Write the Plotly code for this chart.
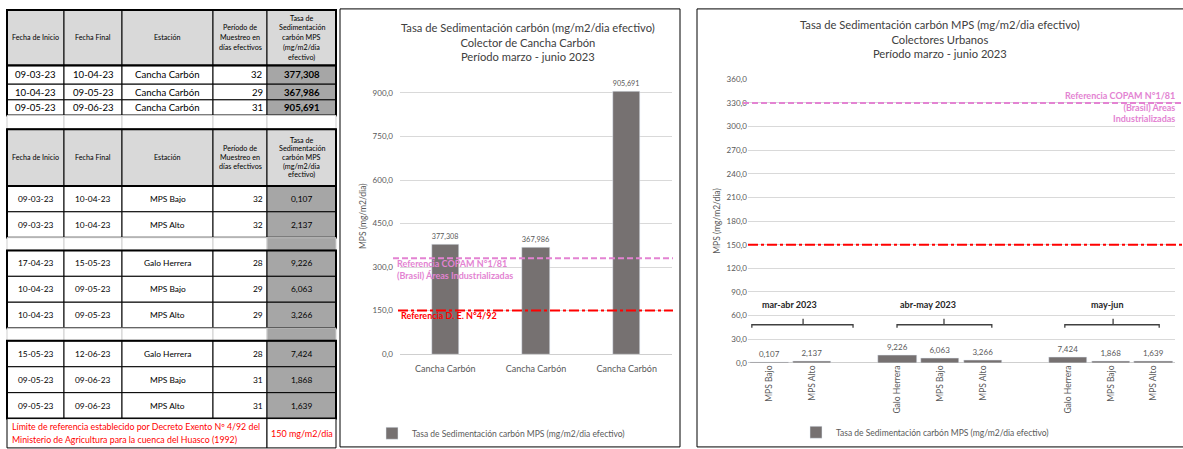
import plotly.graph_objects as go

# ---------------------------------------------------------------------------
# Data
# ---------------------------------------------------------------------------
# Cancha Carbón collector
cc_start = ["09-03-23", "10-04-23", "09-05-23"]
cc_end = ["10-04-23", "09-05-23", "09-06-23"]
cc_station = ["Cancha Carbón", "Cancha Carbón", "Cancha Carbón"]
cc_days = [32, 29, 31]
cc_rate = [377.308, 367.986, 905.691]

# Urban collectors, grouped by sampling period
urb_start = ["09-03-23", "09-03-23", "17-04-23", "10-04-23", "10-04-23",
             "15-05-23", "09-05-23", "09-05-23"]
urb_end = ["10-04-23", "10-04-23", "15-05-23", "09-05-23", "09-05-23",
           "12-06-23", "09-06-23", "09-06-23"]
urb_station = ["MPS Bajo", "MPS Alto", "Galo Herrera", "MPS Bajo", "MPS Alto",
               "Galo Herrera", "MPS Bajo", "MPS Alto"]
urb_days = [32, 32, 28, 29, 29, 28, 31, 31]
urb_rate = [0.107, 2.137, 9.226, 6.063, 3.266, 7.424, 1.868, 1.639]
period_labels = ["mar-abr 2023", "abr-may 2023", "may-jun"]
period_sizes = [2, 3, 3]

# Reference limits (mg/m2/dia)
limit_de = 150
limit_copam = 330

table_header = ["Fecha de Inicio", "Fecha Final", "Estación",
                ["Período de", "Muestreo en", "días efectivos"],
                ["Tasa de", "Sedimentación", "carbón MPS", "(mg/m2/dia", "efectivo)"]]
footer_lines = ["Límite de referencia establecido por Decreto Exento Nº 4/92 del",
                "Ministerio de Agricultura para la cuenca del Huasco (1992)"]
footer_limit = "150 mg/m2/dia"

legend_name = "Tasa de Sedimentación carbón MPS (mg/m2/dia efectivo)"
title_cc = ["Tasa de Sedimentación carbón (mg/m2/dia efectivo)",
            "Colector de Cancha Carbón", "Período marzo - junio 2023"]
title_urb = ["Tasa de Sedimentación carbón MPS (mg/m2/dia efectivo)",
             "Colectores Urbanos", "Período marzo - junio 2023"]
y_title = "MPS (mg/m2/dia)"
copam_text = "Referencia COPAM N°1/81"
copam_text2 = "(Brasil) Áreas Industrializadas"
de_text = "Referencia D. E. N°4/92"

# ---------------------------------------------------------------------------
# Styling / page geometry (pixels)
# ---------------------------------------------------------------------------
W, H = 1183, 449
FONT = "Lato"
BAR = "#767171"
TICK = "#595959"
GRID = "#d9d9d9"
PINK = "#e383d2"
RED = "#ff0000"
HEAD_FILL = "#d9d9d9"
VAL_FILL = "#a6a6a6"


def px(x):
    return x / W


def py(y):
    return 1 - y / H


fig = go.Figure()
shapes = []
annots = []


def rect(x0, y0, x1, y1, fill="rgba(0,0,0,0)", color="black", width=1):
    shapes.append(dict(type="rect", xref="paper", yref="paper",
                       x0=px(x0), x1=px(x1), y0=py(y1), y1=py(y0),
                       fillcolor=fill, line=dict(color=color, width=width),
                       layer="above"))


def text(x, y, s, size, color="black", anchor="center", bold=False):
    if bold:
        s = "<b>" + s + "</b>"
    annots.append(dict(xref="paper", yref="paper", x=px(x), y=py(y), text=s,
                       showarrow=False, xanchor=anchor, yanchor="middle",
                       font=dict(family=FONT, size=size, color=color)))


# ---------------------------------------------------------------------------
# Tables
# ---------------------------------------------------------------------------
COLS = [7, 64, 122, 213, 267, 336]


def header_row(y0, y1, spacing):
    for c in range(5):
        rect(COLS[c], y0, COLS[c + 1], y1, fill=HEAD_FILL, width=1)
        lab = table_header[c]
        cx = (COLS[c] + COLS[c + 1]) / 2
        cy = (y0 + y1) / 2
        if isinstance(lab, str):
            text(cx, cy, lab, 7.2)
        else:
            n = len(lab)
            for i, line in enumerate(lab):
                text(cx, cy + (i - (n - 1) / 2) * spacing, line, 7.2)
    rect(COLS[0], y0, COLS[-1], y1, width=2)


def data_rows(y_edges, starts, ends, stations, days, rates, size, bold_val):
    for i in range(len(starts)):
        y0, y1 = y_edges[i], y_edges[i + 1]
        cy = (y0 + y1) / 2
        for c in range(5):
            rect(COLS[c], y0, COLS[c + 1], y1,
                 fill=VAL_FILL if c == 4 else "white", width=1)
        text((COLS[0] + COLS[1]) / 2, cy, starts[i], size)
        text((COLS[1] + COLS[2]) / 2, cy, ends[i], size)
        text((COLS[2] + COLS[3]) / 2, cy, stations[i], size)
        text(COLS[4] - 2, cy, str(days[i]), size, anchor="right")
        text((COLS[4] + COLS[5]) / 2, cy, f"{rates[i]:.3f}".replace(".", ","),
             size, bold=bold_val)
    rect(COLS[0], y_edges[0], COLS[-1], y_edges[-1], width=2)


def gap_row(y0, y1, gray_value):
    for c in range(5):
        fill = VAL_FILL if (gray_value and c == 4) else "white"
        rect(COLS[c], y0, COLS[c + 1], y1, fill=fill, color="#cfcfcf", width=1)


# upper table (Cancha Carbón)
y = 5
header_row(y, y + 57, 10)
y += 57
edges = [y]
for h in [19, 16, 16]:
    y += h
    edges.append(y)
data_rows(edges, cc_start, cc_end, cc_station, cc_days, cc_rate, 9.6, True)
gap_row(y, y + 14, False)
y += 14

# lower table (urban collectors)
header_row(y, y + 58, 8.8)
y += 58
ROW_H, GAP_H = 26.5, 13
k = 0
for g, n in enumerate(period_sizes):
    if g > 0:
        gap_row(y, y + GAP_H, True)
        y += GAP_H
    edges = [y + ROW_H * i for i in range(n + 1)]
    sl = slice(k, k + n)
    data_rows(edges, urb_start[sl], urb_end[sl], urb_station[sl],
              urb_days[sl], urb_rate[sl], 8.4, False)
    y = edges[-1]
    k += n

# footer with the regulatory limit
rect(COLS[0], y, COLS[4], y + 30, fill="white", width=1)
rect(COLS[4], y, COLS[5], y + 30, fill="white", width=1)
text(COLS[0] + 3, y + 8, footer_lines[0], 8.8, color=RED, anchor="left")
text(COLS[0] + 3, y + 21, footer_lines[1], 8.8, color=RED, anchor="left")
text((COLS[4] + COLS[5]) / 2, y + 15, footer_limit, 9, color=RED)

# ---------------------------------------------------------------------------
# Chart 1: Cancha Carbón
# ---------------------------------------------------------------------------
fig.add_trace(go.Bar(
    x=[f"{s}{'\u200b' * i}" for i, s in enumerate(cc_station)], y=cc_rate,
    name=legend_name, marker_color=BAR, width=0.3, showlegend=True,
    texttemplate="%{y:.3f}", textposition="outside",
    textfont=dict(family=FONT, size=8, color=TICK), cliponaxis=False,
    xaxis="x", yaxis="y", legend="legend"))

# ---------------------------------------------------------------------------
# Chart 2: urban collectors (blank slot between periods)
# ---------------------------------------------------------------------------
urb_pos = []
p = 0
for g, n in enumerate(period_sizes):
    for _ in range(n):
        urb_pos.append(p)
        p += 1
    p += 1
group_first = []
k = 0
for n in period_sizes:
    group_first.append(urb_pos[k])
    k += n

fig.add_trace(go.Bar(
    x=urb_pos, y=urb_rate, name=legend_name, marker_color=BAR, width=0.9,
    showlegend=True,
    texttemplate="%{y:.3f}", textposition="outside",
    textfont=dict(family=FONT, size=8, color=TICK), cliponaxis=False,
    xaxis="x2", yaxis="y2", legend="legend2"))

# reference lines
for xa, ya, x0, x1 in [("x", "y", 393, 673), ("x2", "y2", 743, 1183)]:
    shapes.append(dict(type="line", xref="paper", yref=ya,
                       x0=px(x0), x1=px(x1), y0=limit_copam, y1=limit_copam,
                       line=dict(color=PINK, width=2, dash="6px,3px"),
                       layer="above"))
    shapes.append(dict(type="line", xref="paper", yref=ya,
                       x0=px(x0 + 5), x1=px(x1), y0=limit_de, y1=limit_de,
                       line=dict(color=RED, width=2, dash="10px,3px,3px,3px"),
                       layer="above"))

# reference labels
text(395, 270.5, f"{copam_text}<br>{copam_text2}", 9, color=PINK,
     anchor="left", bold=True)
annots[-1]["align"] = "left"
text(399, 318, de_text, 9, color=RED, anchor="left", bold=True)
cop_parts = copam_text2.split(" ")
text(1177, 104, f"{copam_text}<br>{cop_parts[0]} {cop_parts[1]}<br>{cop_parts[2]}",
     9, color=PINK, anchor="right", bold=True)
annots[-1]["align"] = "right"

# period brackets over the urban groups
bracket_span = [(-0.41, 1.96, 0.79, 0.48), (-0.01, 2.21, 1.09, 0.72),
                (-0.08, 2.13, 1.05, 0.93)]
for g, lab in enumerate(period_labels):
    f = group_first[g]
    a, b, m, t = bracket_span[g]
    x0, x1, xm = f + a, f + b, f + m
    shapes.append(dict(type="path", xref="x2", yref="y2",
                       path=(f"M {x0},44.7 L {x0},48.4 L {x1},48.4 L {x1},44.7 "
                             f"M {xm},48.4 L {xm},56"),
                       line=dict(color="#404040", width=1.3)))
    annots.append(dict(xref="x2", yref="y2", x=f + t, y=74.5,
                       text=f"<b>{lab}</b>", showarrow=False,
                       font=dict(family=FONT, size=9, color="#262626")))

# chart titles
text(528, 38, "<br>".join(title_cc), 11.2, color="#404040")
text(940, 35, "<br>".join(title_urb), 11.2, color="#404040")

# chart frames
rect(340, 4, 680, 452, width=1)
rect(697, 4, 1187, 452, width=1)

axis_font = dict(family=FONT, size=8, color=TICK)
fig.update_layout(
    width=W, height=H, margin=dict(l=0, r=0, t=0, b=0),
    paper_bgcolor="white", plot_bgcolor="white",
    separators=",.",
    showlegend=True,
    font=dict(family=FONT, color=TICK),
    bargap=0,
    xaxis=dict(domain=[px(400), px(672)], showgrid=False, ticks="",
               tickfont=dict(family=FONT, size=9, color=TICK),
               ticklabelstandoff=8,
               showline=False, zeroline=False, fixedrange=True),
    yaxis=dict(domain=[py(357), py(357 - 950 * 267 / 900)], range=[0, 950],
               dtick=150, tickformat=".1f", gridcolor=GRID, gridwidth=1,
               zeroline=True, zerolinecolor="#cfcfcf", zerolinewidth=1,
               tickfont=axis_font, ticks="", showline=False,
               ticklabelstandoff=6,
               title=dict(text=y_title, font=dict(family=FONT, size=8.5, color=TICK),
                          standoff=4)),
    xaxis2=dict(domain=[px(748), px(1175)], range=[-0.5, 9.5], showgrid=False,
                tickvals=urb_pos, ticktext=urb_station, tickangle=-90,
                tickfont=dict(family=FONT, size=8.5, color=TICK), ticks="",
                showline=False, zeroline=False, anchor="y2"),
    yaxis2=dict(domain=[py(366), py(76)], range=[0, 360], dtick=30,
                tickformat=".1f", gridcolor=GRID, gridwidth=1, zeroline=True,
                zerolinecolor="#cfcfcf", zerolinewidth=1, tickfont=axis_font,
                ticks="", showline=False, anchor="x2",
                title=dict(text=y_title, font=dict(family=FONT, size=8.5, color=TICK),
                           standoff=4)),
    legend=dict(x=px(372), y=py(438), xanchor="left", yanchor="middle",
                orientation="h", font=dict(family=FONT, size=8.5, color=TICK),
                bgcolor="rgba(0,0,0,0)"),
    legend2=dict(x=px(796), y=py(437), xanchor="left", yanchor="middle",
                 orientation="h", font=dict(family=FONT, size=8.5, color=TICK),
                 bgcolor="rgba(0,0,0,0)"),
    shapes=shapes, annotations=annots,
)

fig.write_html("out.html")
